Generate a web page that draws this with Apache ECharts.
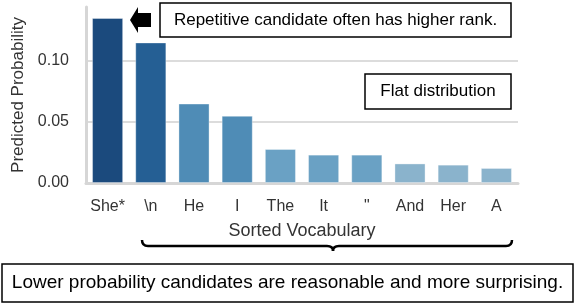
<!DOCTYPE html>
<html>
<head>
<meta charset="utf-8">
<script src="https://cdn.jsdelivr.net/npm/echarts@6/dist/echarts.min.js"></script>
<style>html,body{margin:0;padding:0;background:#fff}#c{width:576px;height:304px}</style>
</head>
<body>
<div id="c"></div>
<script>
var categories = ['She*', '\\n', 'He', 'I', 'The', 'It', '"', 'And', 'Her', 'A'];
var probabilities = [0.135, 0.115, 0.065, 0.055, 0.0278, 0.0232, 0.0232, 0.0160, 0.0150, 0.0123];
var yTicks = [0, 0.05, 0.10];
var palette = ['#1b4a7d', '#255f94', '#4f8cb6', '#4f8cb6', '#6aa1c4', '#6aa1c4', '#6aa1c4', '#8ab3cc', '#8ab3cc', '#8ab3cc'];

var FONT = 'Liberation Sans, Arial, Helvetica, sans-serif';
var chart = echarts.init(document.getElementById('c'), null, {renderer: 'canvas'});
var braceStyle = {fill: 'none', stroke: '#000', lineWidth: 2.5};
chart.setOption({
  animation: false,
  backgroundColor: '#fff',
  grid: {left: 86, right: 58, top: 7, bottom: 121},
  xAxis: {
    type: 'category',
    data: categories,
    name: 'Sorted Vocabulary',
    nameLocation: 'middle',
    nameGap: 39,
    nameTextStyle: {fontFamily: FONT, fontSize: 18, color: '#333'},
    axisLine: {lineStyle: {color: '#d6d6d6', width: 3}},
    axisTick: {show: false},
    axisLabel: {interval: 0, fontFamily: FONT, fontSize: 16, color: '#333', margin: 16}
  },
  yAxis: {
    type: 'value',
    min: 0,
    max: 0.144,
    interval: 0.05,
    name: 'Predicted Probability',
    nameLocation: 'middle',
    nameGap: 56,
    nameTextStyle: {fontFamily: FONT, fontSize: 17, color: '#333'},
    axisLine: {show: true, lineStyle: {color: '#d6d6d6', width: 3}},
    axisTick: {show: false},
    splitLine: {show: true, showMaxLine: false, showMinLine: false, lineStyle: {color: '#dcdcdc', width: 2}},
    axisLabel: {
      fontFamily: FONT, fontSize: 16, color: '#333', margin: 17, showMaxLabel: false,
      formatter: function (v) { return yTicks.some(function (t) { return Math.abs(t - v) < 1e-9; }) ? v.toFixed(2) : ''; }
    }
  },
  series: [{
    type: 'bar',
    barCategoryGap: '28%',
    data: probabilities.map(function (v, i) {
      return {value: v, itemStyle: {color: palette[i], borderColor: 'rgba(255,255,255,0.35)', borderWidth: 1}};
    })
  }],
  graphic: [
    {type: 'polygon', shape: {points: [[130, 20], [138, 7], [138, 13], [151, 13], [151, 27], [138, 27], [138, 33]]}, style: {fill: '#000'}},
    {type: 'rect', shape: {x: 160, y: 3, width: 351, height: 34}, style: {fill: '#fff', stroke: '#000', lineWidth: 1.5}},
    {type: 'text', x: 335.5, y: 20, style: {text: 'Repetitive candidate often has higher rank.', fontFamily: FONT, fontSize: 17, fill: '#000', align: 'center', verticalAlign: 'middle'}},
    {type: 'rect', shape: {x: 365, y: 74, width: 146, height: 35}, style: {fill: '#fff', stroke: '#000', lineWidth: 1.5}},
    {type: 'text', x: 438, y: 91.5, style: {text: 'Flat distribution', fontFamily: FONT, fontSize: 17, fill: '#000', align: 'center', verticalAlign: 'middle'}},
    {type: 'bezierCurve', shape: {x1: 142, y1: 240, x2: 148, y2: 246, cpx1: 142, cpy1: 246}, style: braceStyle},
    {type: 'line', shape: {x1: 148, y1: 246, x2: 327, y2: 246}, style: braceStyle},
    {type: 'bezierCurve', shape: {x1: 327, y1: 246, x2: 333, y2: 251, cpx1: 333, cpy1: 246}, style: braceStyle},
    {type: 'bezierCurve', shape: {x1: 333, y1: 251, x2: 339, y2: 246, cpx1: 333, cpy1: 246}, style: braceStyle},
    {type: 'line', shape: {x1: 339, y1: 246, x2: 506, y2: 246}, style: braceStyle},
    {type: 'bezierCurve', shape: {x1: 506, y1: 246, x2: 512, y2: 240, cpx1: 512, cpy1: 246}, style: braceStyle},
    {type: 'rect', shape: {x: 2, y: 264, width: 571, height: 38}, style: {fill: '#fff', stroke: '#000', lineWidth: 1.5}},
    {type: 'text', x: 287.5, y: 283, style: {text: 'Lower probability candidates are reasonable and more surprising.', fontFamily: FONT, fontSize: 19, fill: '#000', align: 'center', verticalAlign: 'middle'}}
  ]
});
</script>
</body>
</html>
